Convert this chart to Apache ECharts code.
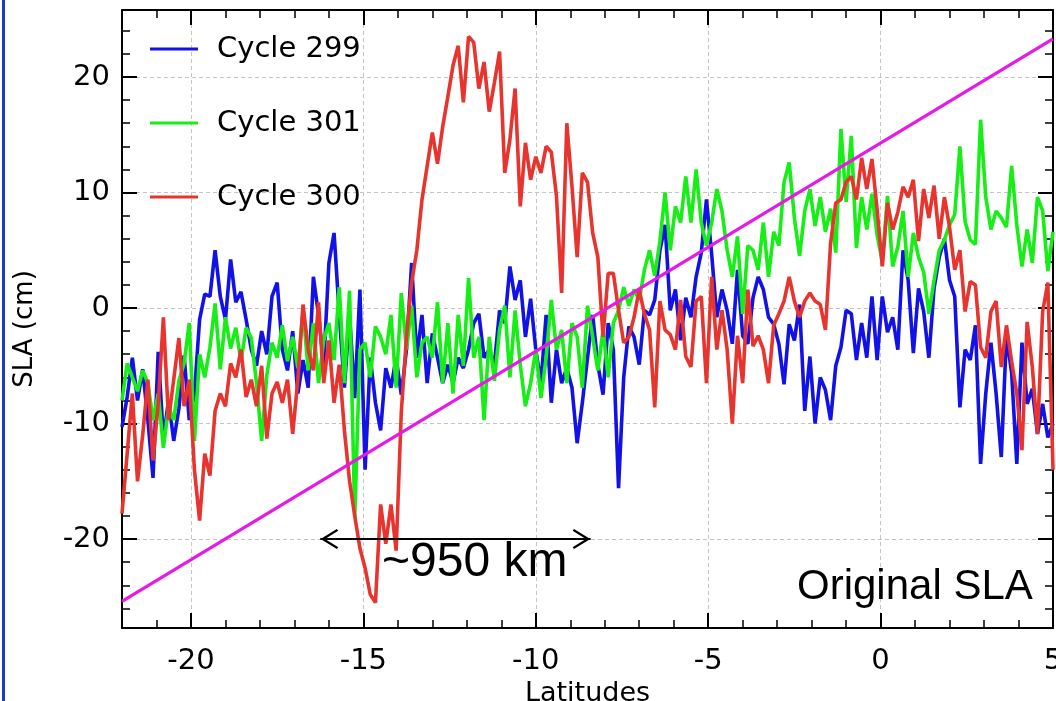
<!DOCTYPE html>
<html>
<head>
<meta charset="utf-8">
<title>SLA cycles</title>
<script src="https://cdn.jsdelivr.net/npm/echarts@6/dist/echarts.min.js"></script>
<style>
  html, body { margin: 0; padding: 0; background: #fff; }
  #main { width: 1056px; height: 701px; }
</style>
</head>
<body>
<div id="main"></div>
<script>
// along-track samples, every 0.15 deg of latitude starting at -22
var latStart = -22, latStep = 0.15;

var cycle299 = [
  -10.3, -7.7, -4.3, -8, -5.3, -9.7, -14.7, -3.8, -11.3, -8,
  -11.5, -8.7, -4.1, -9.7, -7.4, -1, 1.2, 1, 5, 1,
  -1, 4.2, 0.5, 1.4, -1, -3.6, -5, -2, -4, 1,
  2.2, -3.6, -5.4, -2, -7.4, -4.5, -6.9, 2.7, -0.6, -4.9,
  3.9, 6.5, -0.5, -6.9, -0.6, -7.8, 1.6, -14, -4.3, -8.2,
  -10.6, -5.2, -6.9, -4.3, -7.5, -3.6, 3.9, -4.3, -0.6, -6.5,
  -2.2, -4.3, -6.5, -4.9, -6.5, -4.3, -5.2, -3.6, -1.3, -0.5,
  -4.3, -3.6, -4.9, -0.2, -1.3, 3.6, 0.7, 2.4, -2.5, 0.8,
  -3.6, -6.5, -0.6, -8.2, -3.6, -6.5, -5.2, -6.9, -11.7, -8.2,
  -4.3, -0.6, -4.9, -7.5, -1.3, -3.6, -15.6, -6, -1.6, -2.5,
  -4.9, -0.2, -0.6, 0.7, 5, 7.2, -0.2, 1.6, -2.8, 0.9,
  -0.8, 2.7, 4.8, 9.4, 4.7, -0.8, 1.6, -0.2, -3.1, 3.3,
  -2.4, -3.1, 0.9, 2.7, 1.6, -0.8, -1.4, -3.1, -6.6, -1.4,
  -2.8, 0.3, -8.9, -4.2, -10, -6, -7.1, -9.7, -5, -3.4,
  -0.2, -0.5, -4.5, -1.3, -4.3, 1, -4.5, 1, -2.1, -0.8,
  -3.6, 5, 2.4, -3.9, 1.7, -0.3, -4.3, 1.7, 4.4, 6,
  2.4, 1, -8.6, -3.6, -4.5, -1.5, -13.5, -7.4, -3, -7.4,
  -12.9, -2.4, -5.6, -13.5, -3, -8.3, -7, -10.9, -8.3, -11.2,
  -10
];

var cycle301 = [
  -8, -4.8, -6, -7.2, -5.4, -6.5, -9.7, -7.4, -12.1, -8.6,
  -9.7, -6.3, -4.8, -1.3, -11.5, -4, -6, -3.4, 0.4, -5.3,
  -0.8, -3.5, -1.7, -4.6, -1.7, -2.6, -6.5, -11.5, -5.8, -3,
  -4.3, -1.5, -4.6, -2.5, -5.2, -0.2, -5.4, -1.3, -6.5, -2.8,
  -1.3, -4.5, 1.8, -6.5, 1.5, -18.1, -3.6, -3, -6, -1.6,
  -2.5, -4, -0.6, -6.9, 1.3, -3.6, 0.2, -6, -3, -2.5,
  -4.3, 0.5, -6.5, -1.3, -7.4, -0.6, -5, 2.6, -4.3, -2.5,
  -9.7, -2.5, -6.3, -1.9, 0.2, -6, -0.2, -4.9, -8.5, -6.5,
  -3.6, -7.8, -4.3, 0.7, -3.6, -1.9, -6.5, -1.3, -2.5, -6.9,
  0.2, -2.5, -5.4, -1.9, -6, -1.3, -0.2, 1.8, 0.2, 1.6,
  0.7, 3.3, 5, 2.8, 5.8, 10, 5, 8.8, 7.4, 11.4,
  7.4, 12, 7.4, 5.4, 7.4, 10.3, 8.4, 5, 2.7, 6.2,
  -0.5, 5.4, 5, 3.3, 7.4, 2.7, 6.6, 5.4, 10.9, 12.6,
  7.8, 4.5, 8.4, 10.3, 7.1, 9.6, 6.6, 8.6, 4.8, 15.5,
  9.2, 14.9, 5.2, 9.6, 6.8, 9.9, 6.3, 4, 9.7, 3.6,
  5.3, 8.4, 2.7, 6.5, 4.4, 3.1, -0.5, 2.4, 5, 5.9,
  7.2, 8.1, 14, 7.5, 5.9, 5.5, 16.3, 9.6, 6.8, 8.4,
  7.8, 7, 12.3, 7.2, 3.6, 6.8, 3.9, 9.6, 8.4, 3.2,
  6.6
];

var cycle300 = [
  -17.8, -12.6, -7.4, -15, -11, -6.2, -13.2, -8.3, -0.8, -9.7,
  -6.2, -2.6, -8.5, -6.2, -14, -18.4, -12.6, -14.5, -8.9, -7.4,
  -8.5, -4.8, -6, -3.6, -7.7, -6.2, -8.5, -5, -11.3, -7.4,
  -6.4, -8.2, -6.2, -10.9, -6.2, 0.3, -3.6, -5.4, 0.5, -6.5,
  -2.8, -8.2, -4.9, -10.6, -15, -18, -20.8, -22.5, -24.8, -25.5,
  -17, -20.4, -17, -21, -9, -2.5, 2.2, 5, 9.4, 12.3,
  15.2, 12.5, 15.7, 18.3, 21, 22.7, 17.8, 23.5, 23, 19,
  21.3, 17, 19.5, 22.2, 11.7, 14.6, 19, 8.8, 14.3, 11.1,
  13.1, 11.7, 14, 13.5, 9.7, 1.3, 16, 10.5, 4.4, 11.7,
  10.9, 6.5, 4.4, -2.5, 3, 3, -0.2, -3, -2.5, -0.8,
  1.6, -0.5, -1.9, -8.6, 0.6, -1.9, -2.3, -3.6, 0.7, -4.2,
  -5.1, 0.6, 1, -6.5, 2.7, -3.6, -0.2, -3.6, -10, -2.4,
  -6.5, 1.6, -3.3, -2.4, -3.6, -6.5, -1.5, -0.5, 0.6, 2.7,
  0.6, -0.8, 0.6, 1.3, 0.6, 0.3, -1.9, 5.6, 9.1, 9.4,
  10.9, 11.4, 9.4, 13, 10.3, 12.9, 8.5, 3.6, 9.1, 6.8,
  8.3, 10.5, 9.6, 11.1, 5.8, 10.3, 7.8, 10.6, 6, 9.6,
  7, 3.3, 5, -0.3, 2.3, 2, -3.4, -4.3, -0.3, 0.6,
  -5.1, -1.5, -4.6, -7.4, -12.3, -1.2, -5.1, -10.9, -0.3, 2.2,
  -14
];

// straight magenta reference line (end points)
var trendLat = [-22, 5];
var trendSla = [-25.4, 23.3];

// "~950 km" double arrow
var spanLat = [-16.25, -8.41];
var spanSla = -20;

var xMin = -22, xMax = 5;
var yMin = -27.7, yMax = 25.8;

function toPairs(vals) {
  return vals.map(function (v, i) {
    return [Math.round((latStart + i * latStep) * 100) / 100, v];
  });
}

var font = 'DejaVu Sans';
// open arrow head, tip in the middle of the box so it sits on the end point
var chevron = 'path://M10,0 L10.5,0 Z M10,18 L20,34 L18.2,35.4 L10,22.4 L1.8,35.4 L0,34 Z';

function frameAxis(pos, isX, withLabels) {
  var ax = {
    type: 'value',
    position: pos,
    min: isX ? xMin : yMin,
    max: isX ? xMax : yMax,
    splitNumber: 5,
    axisLine: { show: true, onZero: false, lineStyle: { color: '#000', width: 2 } },
    axisTick: { show: true, inside: true, length: 15, lineStyle: { color: '#000', width: 2 } },
    minorTick: { show: true, splitNumber: 5, length: 8, lineStyle: { color: '#000', width: 1.5 } },
    axisLabel: { show: false },
    splitLine: { show: false }
  };
  if (withLabels) {
    ax.axisLabel = {
      show: true, color: '#000', fontSize: 29, fontFamily: font,
      margin: isX ? 19 : 12,
      showMinLabel: false,
      showMaxLabel: isX ? true : false
    };
    ax.splitLine = { show: true, lineStyle: { color: '#c4c4c4', width: 1, type: [4, 3] } };
  }
  return ax;
}

var xBottom = frameAxis('bottom', true, true);
xBottom.name = 'Latitudes';
xBottom.nameLocation = 'middle';
xBottom.nameGap = 34;
xBottom.nameTextStyle = { color: '#000', fontSize: 27, fontFamily: font };

var yLeft = frameAxis('left', false, true);
yLeft.name = 'SLA (cm)';
yLeft.nameLocation = 'middle';
yLeft.nameGap = 84;
yLeft.nameRotate = 90;
yLeft.nameTextStyle = { color: '#000', fontSize: 26, fontFamily: font, padding: [0, 20, 0, 0] };

var lineW = 3.6;

var myChart = echarts.init(document.getElementById('main'));

myChart.setOption({
  animation: false,
  backgroundColor: '#fff',
  grid: { left: 122, right: 3, top: 10, bottom: 73, containLabel: false, outerBoundsMode: 'none' },
  legend: {
    orient: 'vertical',
    left: 145,
    top: 29,
    itemWidth: 48,
    itemHeight: 3,
    itemGap: 44,
    icon: 'rect',
    data: ['Cycle 299', 'Cycle 301', 'Cycle 300'],
    textStyle: { color: '#000', fontSize: 29, fontFamily: font, lineHeight: 30, padding: [0, 0, 0, 14] }
  },
  xAxis: [xBottom, frameAxis('top', true, false)],
  yAxis: [yLeft, frameAxis('right', false, false)],
  series: [
    {
      name: 'Cycle 299', type: 'line', data: toPairs(cycle299),
      showSymbol: false, symbol: 'none', color: '#1212e6',
      lineStyle: { color: '#1212e6', width: lineW }
    },
    {
      name: 'Cycle 301', type: 'line', data: toPairs(cycle301),
      showSymbol: false, symbol: 'none', color: '#16ee16',
      lineStyle: { color: '#16ee16', width: lineW }
    },
    {
      name: 'Cycle 300', type: 'line', data: toPairs(cycle300),
      showSymbol: false, symbol: 'none', color: '#e8342e',
      lineStyle: { color: '#e8342e', width: lineW }
    },
    {
      name: 'trend', type: 'line',
      data: [[trendLat[0], trendSla[0]], [trendLat[1], trendSla[1]]],
      showSymbol: false, symbol: 'none', z: 5,
      lineStyle: { color: '#e61ae6', width: 3.2 },
      markLine: {
        silent: true,
        animation: false,
        symbol: [chevron, chevron],
        symbolSize: [20, 36],
        label: { show: false },
        lineStyle: { color: '#000', width: 2, type: 'solid' },
        emphasis: { disabled: true },
        data: [[{ coord: [spanLat[0], spanSla] }, { coord: [spanLat[1], spanSla] }]]
      }
    }
  ],
  graphic: [
    { type: 'rect', x: 2, y: 0, shape: { width: 3, height: 701 }, style: { fill: '#1a3cc6' } },
    { type: 'text', x: 382, y: 563, z: 100,
      style: { text: '~950 km', font: '48px "Liberation Sans"', fill: '#000', verticalAlign: 'middle' } },
    { type: 'text', x: 797, y: 587, z: 100,
      style: { text: 'Original SLA', font: '42px "Liberation Sans"', fill: '#000', verticalAlign: 'middle' } }
  ]
});

window.addEventListener('resize', function () {
  myChart.resize();
});
</script>
</body>
</html>
